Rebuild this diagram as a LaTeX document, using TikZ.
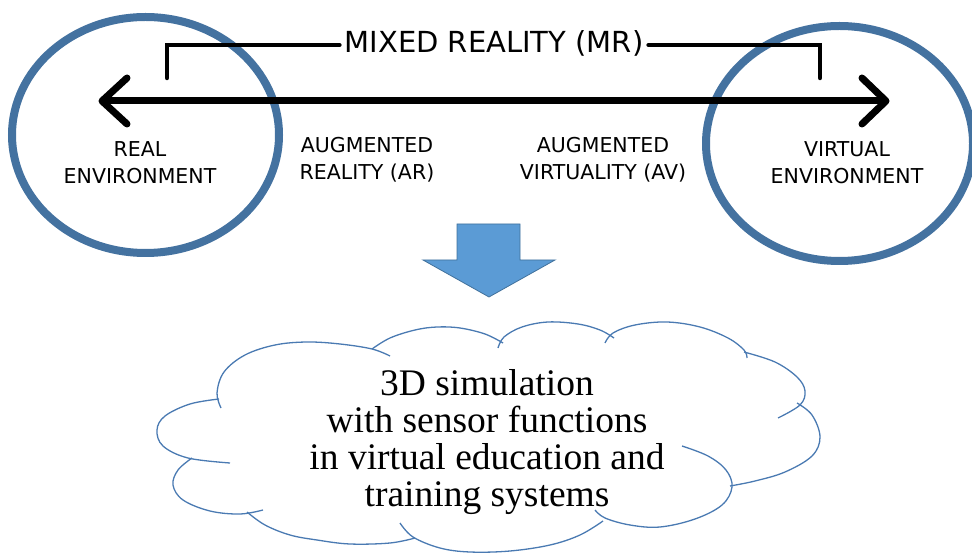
\documentclass[tikz,border=0pt]{standalone}
\usepackage{fontspec}
\newfontfamily\labelfont{DejaVu Sans}
\newfontfamily\cloudfont{Liberation Serif}
\usetikzlibrary{shapes.geometric}
\definecolor{ringblue}{RGB}{68,114,160}
\definecolor{arrowfill}{RGB}{91,155,213}
\definecolor{arrowedge}{RGB}{65,113,156}
\definecolor{cloudblue}{RGB}{74,122,178}
\begin{document}
\begin{tikzpicture}[x=1pt,y=-1pt,
  ring/.style={draw=ringblue, line width=8pt, ellipse, inner sep=0pt},
  lab/.style={font=\labelfont\fontsize{20.5}{27}\selectfont, align=center, inner sep=0pt},
  mrlab/.style={font=\labelfont\fontsize{29}{34}\selectfont, inner sep=5pt},
  bar/.style={line width=7pt},
  barb/.style={line width=7pt, line cap=round, line join=round},
  bracketline/.style={line width=4.5pt, line cap=round},
  lobe/.style={draw=cloudblue, line width=1.3pt},
  cloudtext/.style={font=\cloudfont\fontsize{37.5}{37.3}\selectfont, align=center, inner sep=0pt},
  bigarrow/.style={fill=arrowfill, draw=arrowedge, line width=0.8pt, line join=miter}
]
\useasboundingbox (0,0) rectangle (972,553);

% rings
\node[ring, minimum width=267pt, minimum height=236pt] (realring) at (145.5,135) {};
\node[ring, minimum width=267pt, minimum height=235pt] (virtring) at (839.5,143.5) {};

% main double arrow
\coordinate (ltip) at (102,101);
\coordinate (rtip) at (886,101);
\coordinate (lup) at (127,78);
\coordinate (ldn) at (127,124);
\coordinate (rup) at (862,78);
\coordinate (rdn) at (862,124);
\draw[bar] (ltip) -- (rtip);
\draw[barb] (lup) -- (ltip) -- (ldn);
\draw[barb] (rup) -- (rtip) -- (rdn);

% mixed reality bracket
\node[mrlab] (mr) at (494,43) {MIXED REALITY (MR)};
\coordinate (bl0) at (167,78);
\coordinate (bl1) at (167,45);
\coordinate (br1) at (820,45);
\coordinate (br0) at (820,78);
\draw[bracketline] (bl0) -- (bl1) -- (mr.west |- bl1);
\draw[bracketline] (mr.east |- br1) -- (br1) -- (br0);

% labels
\node[lab] (real) at (140,163) {REAL\\ENVIRONMENT};
\node[lab] (virt) at (847,163) {VIRTUAL\\ENVIRONMENT};
\node[lab] (ar) at (367,160) {AUGMENTED\\REALITY (AR)};
\node[lab] (av) at (603,160) {AUGMENTED\\VIRTUALITY (AV)};

% block arrow
\draw[bigarrow] (457,224) -- (520,224) -- (520,260) -- (555,260) -- (489,297)
  -- (423,260) -- (457,260) -- cycle;

% cloud lobes
\draw[lobe] plot[smooth, tension=0.6] coordinates {(221,408) (217,393) (224,372) (245,355) (275,345) (307,342) (340,344) (372,349) (390,356)};
\draw[lobe] plot[smooth, tension=0.6] coordinates {(372,349) (390,338) (415,330) (437,327) (460,328) (485,334) (503,343)};
\draw[lobe] plot[smooth, tension=0.6] coordinates {(498,348) (504,337) (522,327) (548,322) (578,324) (600,330) (614,338)};
\draw[lobe] plot[smooth, tension=0.6] coordinates {(605,343) (613,333) (635,325) (667,322) (700,327) (728,338) (744,350) (747,358)};
\draw[lobe] plot[smooth, tension=0.6] coordinates {(744,352) (775,362) (797,377) (805,391) (800,405) (778,418)};
\draw[lobe] plot[smooth, tension=0.6] coordinates {(797,403) (812,415) (820,437) (812,456) (785,472) (755,481) (730,486)};
\draw[lobe] plot[smooth, tension=0.6] coordinates {(682,446) (708,456) (726,470) (732,487) (722,505) (695,519) (660,527) (630,525) (605,518) (595,510)};
\draw[lobe] plot[smooth, tension=0.6] coordinates {(400,523) (413,537) (440,548) (470,552) (510,551) (550,545) (580,535) (603,521)};
\draw[lobe] plot[smooth, tension=0.6] coordinates {(247,512) (265,525) (290,535) (317,540) (350,544) (390,543) (415,538)};
\draw[lobe] plot[smooth, tension=0.6] coordinates {(192,458) (178,470) (173,485) (183,500) (210,511) (240,514) (263,510)};
\draw[lobe] plot[smooth, tension=0.6] coordinates {(219,399) (190,404) (165,416) (157,430) (163,446) (188,458) (230,463)};

\node[cloudtext] (cloud) at (487,442) {3D simulation\\with sensor functions\\in virtual education and\\training systems};
\end{tikzpicture}
\end{document}
